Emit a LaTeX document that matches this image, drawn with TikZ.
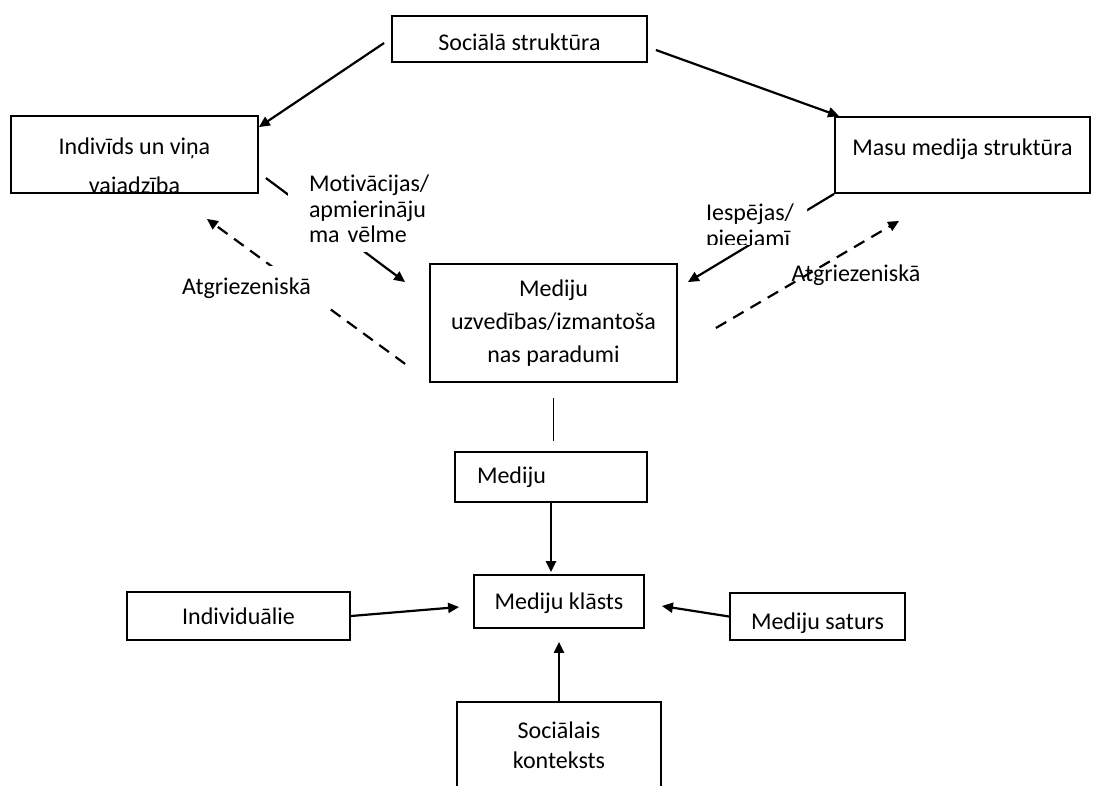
\documentclass[tikz,border=0pt]{standalone}
\usepackage{fontspec}
\setmainfont{Carlito}[Ligatures=NoCommon]
\usepackage{tikz}
\usetikzlibrary{arrows.meta, calc}

\begin{document}
\begin{tikzpicture}[x=1pt,y=-1pt,>={Triangle[length=11pt,width=10pt]},
			line width=2.2pt,font=\fontsize{24}{33}\selectfont,
			box/.style={draw,line width=1.8pt,inner sep=0pt},
			lbl/.style={fill=white,inner sep=0pt},
			feedback/.style={->,dash pattern=on 12pt off 8pt}]
			
			\useasboundingbox (0,0) rectangle (1093,785);
			
			\node[box,minimum width=255pt,minimum height=46pt,text height=22pt,text depth=0pt] (soc) at (519.5,39) {Sociālā struktūra};
			\node[box,minimum width=247pt,minimum height=77pt] (ind) at (134.5,154.5) {};
			\node[box,minimum width=255pt,minimum height=76pt,text height=18pt,text depth=18pt] (mms) at (962.5,155) {Masu medija struktūra};
			\node[box,minimum width=247pt,minimum height=118pt,align=center] (mub) at (553.5,323) {Mediju\\uzvedības/izmantoša\\nas paradumi};
			\node[box,minimum width=192pt,minimum height=50pt,inner xsep=22pt,text width=148pt,align=left] (med) at (551,477) {Mediju};
			\node[box,minimum width=170pt,minimum height=53pt,text depth=0pt] (mk) at (559,601.5) {Mediju klāsts};
			\node[box,minimum width=223pt,minimum height=48pt] (indl) at (238.5,616) {Individuālie};
			\node[box,minimum width=175pt,minimum height=47pt,text height=25pt,text depth=0pt] (ms) at (817.5,616.5) {Mediju saturs};
			\node[box,minimum width=204pt,minimum height=87pt,align=center,font=\fontsize{24}{30}\selectfont] (sk) at (559,745.5) {Sociālais\\konteksts};
			
			\begin{scope}
				\clip (ind.south west) rectangle (ind.north east);
				\node[align=center,inner sep=0pt,font=\fontsize{24}{39}\selectfont] (indtxt) at (134.5,168) {Indivīds un viņa\\vajadzība};
			\end{scope}
			
			\draw[->] ([xshift=-7pt,yshift=-4pt]soc.west) -- ([yshift=-12pt]ind.north east);
			\draw[->] ([xshift=8pt,yshift=-11pt]soc.east) -- ([xshift=5pt]mms.north west);
			\draw[->] ([xshift=7pt,yshift=-23.5pt]ind.east) -- ([xshift=-24pt,yshift=-19pt]mub.north west);
			\draw[->] (mms.south west) -- ([xshift=10pt,yshift=-19pt]mub.north east);
			\draw[feedback] ([xshift=-24pt,yshift=19pt]mub.south west) -- ([xshift=-52pt,yshift=-25pt]ind.south east);
			\draw[feedback] ([xshift=38pt,yshift=-5pt]mub.east) -- ([xshift=65pt,yshift=-27pt]mms.south west);
			
			\node[lbl,minimum height=85pt,inner xsep=21pt,text width=108pt,align=left,font=\fontsize{24}{25.5}\selectfont] (mot) at (363,209) {Motivācijas/\\apmierināju\\ma vēlme};
			\begin{scope}
				\clip (693,195) rectangle (807,244);
				\node[lbl,anchor=north west,inner xsep=12pt,inner ysep=8pt,text width=90pt,align=left,font=\fontsize{24}{25.5}\selectfont] (iesp) at (693,195) {Iespējas/\\pieejamī};
			\end{scope}
			\node[lbl,minimum width=165pt,minimum height=44pt] (atgl) at (246.5,288) {Atgriezeniskā};
			\node[inner sep=0pt] (atgr) at (856,275) {Atgriezeniskā};
			
			\draw[line width=1.5pt,shorten <=15pt,shorten >=10pt] (mub.south) -- (mub.south |- med.north);
			\draw[->,shorten >=2pt] (med.south) -- (med.south |- mk.north);
			\draw[->] (indl.east) -- ([xshift=-14pt,yshift=-5.5pt]mk.west);
			\draw[->] (ms.west) -- ([xshift=17pt,yshift=-4.5pt]mk.east);
			\draw[->,shorten >=13pt] (sk.north) -- (mk.south);
		
		\end{tikzpicture}
\end{document}
